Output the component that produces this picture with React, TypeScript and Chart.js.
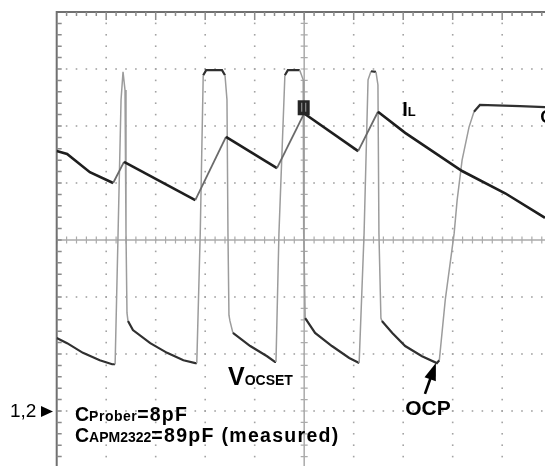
import React, { useEffect, useRef } from 'react';
import { Chart, registerables } from 'chart.js';

Chart.register(...registerables);

// Scope screen in divisions (10 x 8 graticule, cropped at the right/bottom edge)
const X_MIN = 0;
const X_MAX = 9.865;
const Y_MIN = -3.965;
const Y_MAX = 4;
const X_MAJOR = [1, 2, 3, 4, 6, 7, 8, 9];
const Y_MAJOR = [-3, -2, -1, 1, 2, 3];
const CENTER_X = 5;
const CENTER_Y = 0;

// Trace 1: inductor current IL
const ilTime = [0, 0.21, 0.67, 1.14, 1.36, 2.8, 3.42, 4.45, 5.0, 6.09, 6.49, 7.04, 8.19, 9.06, 9.865];
const ilLevel = [1.56, 1.51, 1.19, 1.0, 1.37, 0.7, 1.81, 1.26, 2.22, 1.56, 2.25, 1.88, 1.21, 0.82, 0.39];

// Trace 2: VOCSET
const vTime = [
  0, 0.21, 0.53, 0.87, 1.12, 1.18, 1.24, 1.3, 1.34, 1.38, 1.4, 1.42, 1.44, 1.54, 1.89,
  2.23, 2.56, 2.8, 2.83, 2.9, 2.96, 3.02, 3.34, 3.4, 3.44, 3.46, 3.48, 3.5, 3.56, 3.91,
  4.25, 4.41, 4.43, 4.49, 4.61, 4.67, 4.91, 4.98, 4.99, 5.02, 5.22, 5.56, 5.91, 6.07, 6.11,
  6.21, 6.29, 6.35, 6.45, 6.49, 6.51, 6.55, 6.57, 6.78, 7.04, 7.38, 7.68, 7.73, 7.85, 8.03,
  8.09, 8.19, 8.33, 8.43, 8.55, 9.36, 9.865,
];
const vLevel = [
  -1.72, -1.81, -1.98, -2.11, -2.18, -2.18, 0.12, 2.46, 2.95, 2.63, 0.12, -1.28, -1.42, -1.58, -1.81,
  -1.98, -2.11, -2.16, -2.16, 0.12, 2.89, 2.98, 2.98, 2.89, 2.46, 0.12, -1.32, -1.42, -1.63, -1.86,
  -2.04, -2.14, -2.14, 0.12, 2.89, 2.98, 2.98, 2.81, 0.12, -1.37, -1.63, -1.86, -2.07, -2.14, -2.16,
  0.12, 2.81, 2.96, 2.95, 2.72, 0.12, -1.37, -1.42, -1.63, -1.86, -2.04, -2.16, -2.11, -1.05, 0.12,
  0.7, 1.4, 1.98, 2.25, 2.37, 2.35, 2.33,
];

// Annotation anchors (in divisions)
const LABEL_CH = { x: -0.943, y: -3.105 };
const CH_ARROW = { x: -0.075, y: -3.01 };
const LABEL_CAP1 = { x: 0.37, y: -3.18 };
const LABEL_CAP2 = { x: 0.37, y: -3.54 };
const LABEL_VOCSET = { x: 3.46, y: -2.54 };
const LABEL_IL = { x: 6.98, y: 2.175 };
const LABEL_OCP = { x: 7.04, y: -3.07 };
const LABEL_EDGE = { x: 9.77, y: 2.05 };
const OCP_ARROW_TAIL = { x: 7.44, y: -2.7 };
const OCP_ARROW_TIP = { x: 7.66, y: -2.16 };
const TRIG_MARK = { x: 4.99, y: 2.32 };

const FONT = '"Liberation Sans", Arial, Helvetica, sans-serif';

const scopeGrid = {
  id: 'scopeGrid',
  beforeDatasetsDraw(chart: any) {
    const { ctx, scales } = chart;
    const xs = scales.x;
    const ys = scales.y;
    const px = (v: number) => xs.getPixelForValue(v);
    const py = (v: number) => ys.getPixelForValue(v);
    ctx.save();
    // dotted graticule
    ctx.fillStyle = '#a3a3a3';
    for (const gx of X_MAJOR) {
      const x = px(gx);
      for (let k = 0; Y_MAX - k * 0.2 >= Y_MIN - 1e-6; k++) {
        const y = py(Y_MAX - k * 0.2);
        ctx.fillRect(x - 0.8, y - 0.8, 1.6, 1.6);
      }
    }
    for (const gy of Y_MAJOR) {
      const y = py(gy);
      for (let k = 0; k * 0.2 <= X_MAX + 1e-6; k++) {
        const x = px(k * 0.2);
        ctx.fillRect(x - 0.8, y - 0.8, 1.6, 1.6);
      }
    }
    // center axes with tick marks
    ctx.strokeStyle = '#ababab';
    ctx.lineWidth = 1.5;
    ctx.beginPath();
    ctx.moveTo(px(CENTER_X), py(Y_MAX));
    ctx.lineTo(px(CENTER_X), py(Y_MIN));
    ctx.moveTo(px(X_MIN), py(CENTER_Y));
    ctx.lineTo(px(X_MAX), py(CENTER_Y));
    ctx.stroke();
    ctx.lineWidth = 1.2;
    ctx.beginPath();
    for (let k = 0; Y_MAX - k * 0.2 >= Y_MIN - 1e-6; k++) {
      const y = py(Y_MAX - k * 0.2);
      ctx.moveTo(px(CENTER_X) - 3.5, y);
      ctx.lineTo(px(CENTER_X) + 3.5, y);
    }
    for (let k = 0; k * 0.2 <= X_MAX + 1e-6; k++) {
      const x = px(k * 0.2);
      ctx.moveTo(x, py(CENTER_Y) - 3.5);
      ctx.lineTo(x, py(CENTER_Y) + 3.5);
    }
    ctx.stroke();
    // border top & left with ticks
    ctx.strokeStyle = '#707070';
    ctx.lineWidth = 2;
    ctx.beginPath();
    ctx.moveTo(px(X_MIN), py(Y_MIN));
    ctx.lineTo(px(X_MIN), py(Y_MAX));
    ctx.lineTo(px(X_MAX), py(Y_MAX));
    ctx.stroke();
    ctx.lineWidth = 1.5;
    ctx.strokeStyle = '#8a8a8a';
    ctx.beginPath();
    for (let k = 1; k * 0.2 <= X_MAX + 1e-6; k++) {
      const x = px(k * 0.2);
      const len = k % 5 === 0 ? 8 : 4;
      ctx.moveTo(x, py(Y_MAX));
      ctx.lineTo(x, py(Y_MAX) + len);
    }
    for (let k = 1; Y_MAX - k * 0.2 >= Y_MIN - 1e-6; k++) {
      const y = py(Y_MAX - k * 0.2);
      ctx.moveTo(px(X_MIN), y);
      ctx.lineTo(px(X_MIN) + 5, y);
    }
    ctx.stroke();
    ctx.restore();
  },
};

function drawRuns(ctx: CanvasRenderingContext2D, x: number, y: number, runs: { t: string; s: number; sp?: number; w?: string }[]) {
  let cx = x;
  for (const r of runs) {
    ctx.font = `${r.w ?? 'bold'} ${r.s}px ${FONT}`;
    (ctx as any).letterSpacing = `${r.sp ?? 0}px`;
    ctx.fillText(r.t, cx, y);
    cx += ctx.measureText(r.t).width;
  }
  (ctx as any).letterSpacing = '0px';
}

const scopeLabels = {
  id: 'scopeLabels',
  afterDatasetsDraw(chart: any) {
    const { ctx, scales } = chart;
    const px = (v: number) => scales.x.getPixelForValue(v);
    const py = (v: number) => scales.y.getPixelForValue(v);
    ctx.save();
    ctx.fillStyle = '#000';
    ctx.textBaseline = 'alphabetic';

    // trigger marker
    const mx = px(TRIG_MARK.x);
    const my = py(TRIG_MARK.y);
    ctx.fillStyle = '#262626';
    ctx.fillRect(mx - 6, my - 7.5, 12, 15);
    ctx.strokeStyle = '#8c8c8c';
    ctx.lineWidth = 1.2;
    ctx.beginPath();
    ctx.moveTo(mx - 2, my - 5);
    ctx.lineTo(mx - 2, my + 4);
    ctx.moveTo(mx + 2, my - 5);
    ctx.lineTo(mx + 2, my + 4);
    ctx.stroke();
    ctx.fillStyle = '#000';

    drawRuns(ctx, px(LABEL_CH.x), py(LABEL_CH.y), [{ t: '1,2', s: 19, w: 'normal' }]);
    const tx = px(CH_ARROW.x);
    const ty = py(CH_ARROW.y);
    ctx.beginPath();
    ctx.moveTo(tx, ty);
    ctx.lineTo(tx - 12, ty - 5.5);
    ctx.lineTo(tx - 12, ty + 5.5);
    ctx.closePath();
    ctx.fill();

    drawRuns(ctx, px(LABEL_CAP1.x), py(LABEL_CAP1.y), [
      { t: 'C', s: 19.5 },
      { t: 'Prober', s: 14, sp: 0.5 },
      { t: '=8pF', s: 19.5, sp: 1.2 },
    ]);
    drawRuns(ctx, px(LABEL_CAP2.x), py(LABEL_CAP2.y), [
      { t: 'C', s: 19.5 },
      { t: 'APM2322', s: 14 },
      { t: '=89pF (measured)', s: 19.5, sp: 1.3 },
    ]);
    drawRuns(ctx, px(LABEL_VOCSET.x), py(LABEL_VOCSET.y), [
      { t: 'V', s: 25 },
      { t: 'OCSET', s: 14 },
    ]);
    drawRuns(ctx, px(LABEL_IL.x), py(LABEL_IL.y), [
      { t: 'I', s: 20 },
      { t: 'L', s: 13 },
    ]);
    drawRuns(ctx, px(LABEL_OCP.x), py(LABEL_OCP.y), [{ t: 'OCP', s: 21 }]);
    drawRuns(ctx, px(LABEL_EDGE.x), py(LABEL_EDGE.y), [{ t: 'C', s: 18 }]);

    // OCP arrow
    const ax0 = px(OCP_ARROW_TAIL.x);
    const ay0 = py(OCP_ARROW_TAIL.y);
    const ax1 = px(OCP_ARROW_TIP.x);
    const ay1 = py(OCP_ARROW_TIP.y);
    const dx = ax1 - ax0;
    const dy = ay1 - ay0;
    const len = Math.hypot(dx, dy);
    const ux = dx / len;
    const uy = dy / len;
    const head = 17;
    const bx = ax1 - ux * head;
    const by = ay1 - uy * head;
    ctx.strokeStyle = '#000';
    ctx.lineWidth = 2.6;
    ctx.beginPath();
    ctx.moveTo(ax0, ay0);
    ctx.lineTo(bx + ux * 2, by + uy * 2);
    ctx.stroke();
    ctx.beginPath();
    ctx.moveTo(ax1, ay1);
    ctx.lineTo(bx - uy * 6, by + ux * 6);
    ctx.lineTo(bx + uy * 6, by - ux * 6);
    ctx.closePath();
    ctx.fill();
    ctx.restore();
  },
};

export default function App() {
  const canvasRef = useRef<HTMLCanvasElement | null>(null);

  useEffect(() => {
    if (!canvasRef.current) return;
    const ilData = ilTime.map((t, i) => ({ x: t, y: ilLevel[i] }));
    const vData = vTime.map((t, i) => ({ x: t, y: vLevel[i] }));
    const steep = (c: any) => Math.abs(c.p1.y - c.p0.y) > 2.5 * Math.abs(c.p1.x - c.p0.x);
    const chart = new Chart(canvasRef.current, {
      type: 'line',
      data: {
        datasets: [
          {
            label: 'IL',
            data: ilData,
            borderColor: '#1e1e1e',
            borderWidth: 2.6,
            pointRadius: 0,
            tension: 0,
            segment: {
              borderColor: (c: any) => (c.p1.y < c.p0.y ? '#6a6a6a' : '#1e1e1e'),
              borderWidth: (c: any) => (c.p1.y < c.p0.y ? 1.8 : 2.6),
            },
          },
          {
            label: 'VOCSET',
            data: vData,
            borderColor: '#2e2e2e',
            borderWidth: 2,
            pointRadius: 0,
            tension: 0,
            segment: {
              borderColor: (c: any) => (steep(c) ? '#9c9c9c' : '#303030'),
              borderWidth: (c: any) => (steep(c) ? 1.5 : 2.2),
            },
          },
        ],
      },
      options: {
        animation: false,
        responsive: true,
        maintainAspectRatio: false,
        layout: { padding: { left: 56.7, top: 12, right: 0, bottom: 0 } },
        scales: {
          x: { type: 'linear', min: X_MIN, max: X_MAX, display: false },
          y: { type: 'linear', min: Y_MIN, max: Y_MAX, display: false },
        },
        plugins: {
          legend: { display: false },
          tooltip: { enabled: false },
        },
        events: [],
      },
      plugins: [scopeGrid, scopeLabels],
    });
    return () => chart.destroy();
  }, []);

  return (
    <div
      style={{
        position: 'fixed',
        left: 0,
        top: 0,
        width: 545,
        height: 466,
        background: '#fff',
        overflow: 'hidden',
      }}
    >
      <canvas ref={canvasRef} />
    </div>
  );
}
